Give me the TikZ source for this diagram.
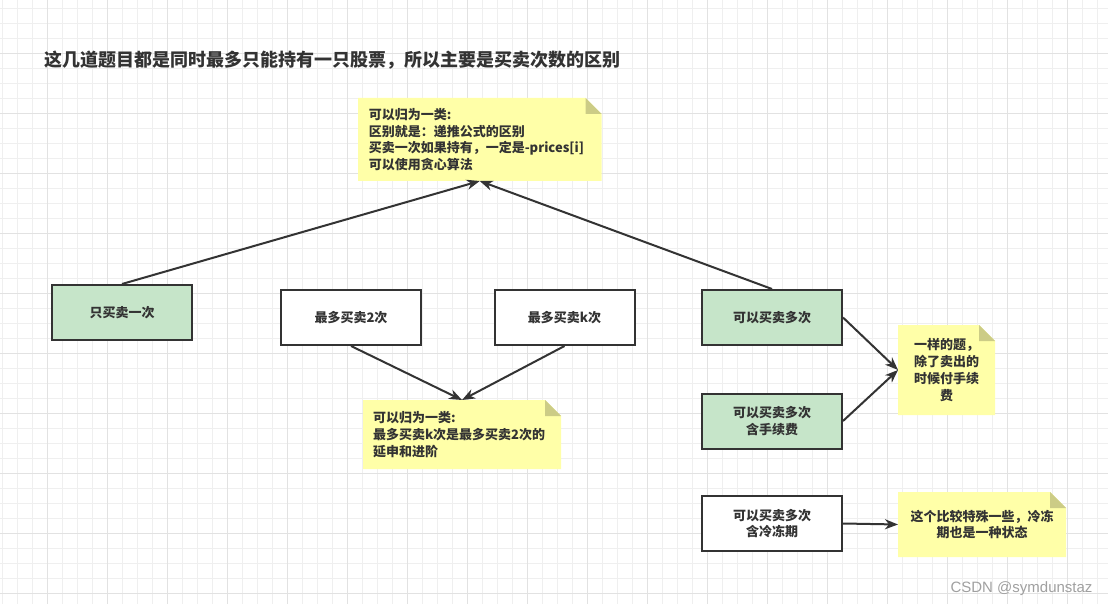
\documentclass[tikz,border=0pt]{standalone}
\usepackage{fontspec}
\setmainfont{Noto Sans CJK SC}
\newfontfamily\wmfont{Liberation Sans}
\usetikzlibrary{arrows.meta,backgrounds}
\definecolor{ink}{HTML}{333333}
\definecolor{gridminor}{HTML}{EFEFEF}
\definecolor{gridmajor}{HTML}{E2E2E2}
\definecolor{boxgreen}{HTML}{C6E5C9}
\definecolor{notey}{HTML}{FFFFA8}
\definecolor{notefold}{HTML}{CCCC86}
\definecolor{wmgray}{HTML}{A0A0A0}
\newcommand\mybodyfont{\bfseries\fontsize{13pt}{16.7pt}\selectfont}
\newcommand\mynotefill[1]{%
  \fill[notey] (#1.south west) -- (#1.north west) -- ([xshift=-16pt]#1.north east)
    -- ([yshift=-16pt]#1.north east) -- (#1.south east) -- cycle;
  \fill[notefold] ([xshift=-16pt]#1.north east) -- ([xshift=-16pt,yshift=-16pt]#1.north east)
    -- ([yshift=-16pt]#1.north east) -- cycle;}
\tikzset{
  minorline/.style={draw=gridminor, line width=1pt},
  majorline/.style={draw=gridmajor, line width=1pt},
  box/.style={draw=ink, line width=2pt, minimum width=140pt, minimum height=55pt,
    inner sep=0pt, align=center, text=ink, font=\mybodyfont},
  greenbox/.style={box, fill=boxgreen},
  whitebox/.style={box, fill=white},
  note/.style={inner sep=0pt, outer sep=0pt, text=ink, font=\mybodyfont},
  conn/.style={draw=ink, line width=2pt, -{Stealth[length=13pt,width=10pt,inset=4pt]}},
}
\begin{document}
\begin{tikzpicture}[x=1pt,y=-1pt]
\useasboundingbox (0,0) rectangle (1108,604);

% title
\node[anchor=west, inner sep=0pt, text=ink, font=\bfseries\fontsize{18pt}{22pt}\selectfont] (title) at (44,60)
  {这几道题目都是同时最多只能持有一只股票，所以主要是买卖次数的区别};

% notes
\node[note, minimum width=243.5pt, minimum height=83pt, text width=222pt, align=left] (n1) at (479.75,139.5)
  {可以归为一类:\\区别就是：递推公式的区别\\买卖一次如果持有，一定是-prices[i]\\可以使用贪心算法};
\node[note, minimum width=198pt, minimum height=69pt, text width=178pt, align=left] (n2) at (462,434.5)
  {可以归为一类:\\最多买卖k次是最多买卖2次的\\延申和进阶};
\node[note, minimum width=97pt, minimum height=90pt, align=center] (n3) at (946.5,370)
  {一样的题，\\除了卖出的\\时候付手续\\费};
\node[note, minimum width=168pt, minimum height=65pt, align=center] (n4) at (982,524.5)
  {这个比较特殊一些，冷冻\\期也是一种状态};

% boxes
\node[greenbox] (b1) at (122,312.5) {只买卖一次};
\node[whitebox] (b2) at (351,317.5) {最多买卖2次};
\node[whitebox] (b3) at (564.5,317.5) {最多买卖k次};
\node[greenbox] (b4) at (772,317.5) {可以买卖多次};
\node[greenbox] (b5) at (772,421) {可以买卖多次\\含手续费};
\node[whitebox] (b6) at (772,523.5) {可以买卖多次\\含冷冻期};

% connectors
\draw[conn] (b1.north) -- (n1.south);
\draw[conn] (b4.north) -- (n1.south);
\draw[conn] (b2.south) -- (n2.north);
\draw[conn] (b3.south) -- (n2.north);
\draw[conn] (b4.east) -- (n3.west);
\draw[conn] (b5.east) -- (n3.west);
\draw[conn] (b6.east) -- (n4.west);

% watermark
\node[anchor=base, inner sep=0pt, text=wmgray, font=\wmfont\fontsize{15pt}{18pt}\selectfont] (wm) at (1021.5,592.5)
  {CSDN @symdunstaz};

\begin{scope}[on background layer]
  \fill[white] (0,0) rectangle (1108,604);
  \foreach \i in {0,...,73} \draw[minorline] ({2.5+15*\i},0) -- ({2.5+15*\i},604);
  \foreach \j in {0,...,39} \draw[minorline] (0,{8.5+15*\j}) -- (1108,{8.5+15*\j});
  \foreach \i in {0,...,17} \draw[majorline] ({47.5+60*\i},0) -- ({47.5+60*\i},604);
  \foreach \j in {0,...,9} \draw[majorline] (0,{53.5+60*\j}) -- (1108,{53.5+60*\j});
  \mynotefill{n1}
  \mynotefill{n2}
  \mynotefill{n3}
  \mynotefill{n4}
\end{scope}
\end{tikzpicture}
\end{document}
